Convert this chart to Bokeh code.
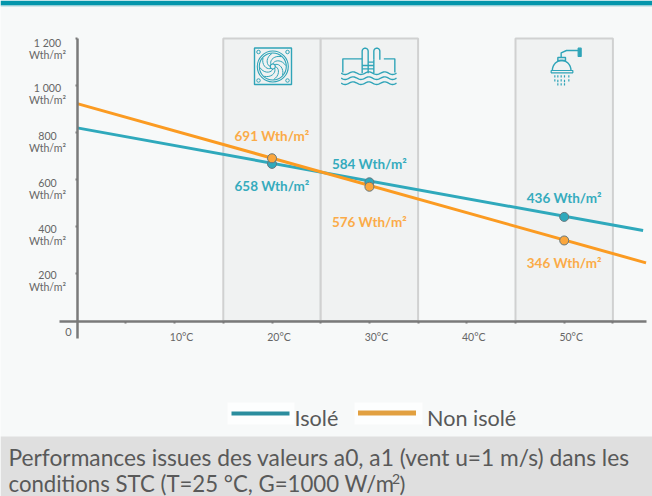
import numpy as np
from bokeh.plotting import figure
from bokeh.models import Range1d, LinearAxis, FixedTicker
from bokeh.core.properties import value
from bokeh.embed import file_html
from bokeh.resources import INLINE

# ---- data
line_x = [0, 58.1]
isole_line = [820, 384]
line_x2 = [0, 58.4]
non_isole_line = [923, 247]
point_x = [20, 30, 50]
isole_points = [667, 589, 442]
non_isole_points = [691, 570, 342]
isole_labels = ["658 Wth/m²", "584 Wth/m²", "436 Wth/m²"]
non_isole_labels = ["691 Wth/m²", "576 Wth/m²", "346 Wth/m²"]
band_left = [15, 25, 45]
band_right = [25, 35, 55]
x_ticks = [5, 10, 15, 20, 25, 30, 35, 40, 45, 50, 55]
x_label_pos = [10, 20, 30, 40, 50]
x_labels = ["10°C", "20°C", "30°C", "40°C", "50°C"]
y_ticks = [200, 400, 600, 800, 1000, 1200]
y_labels = ["200\nWth/m²", "400\nWth/m²", "600\nWth/m²", "800\nWth/m²", "1 000\nWth/m²", "1 200\nWth/m²"]

FONT = value("Lato")
TEAL = "#2fa9bc"
ORANGE = "#fb9b22"
W, H = 652, 496
X0, XS = 76.7, 9.74
Y0, YS = 320.5, 0.2355

p = figure(width=W, height=H, output_backend="svg", toolbar_location=None,
           x_axis_type=None, y_axis_type=None, min_border=0,
           x_range=Range1d((0 - X0) / XS, (W - X0) / XS),
           y_range=Range1d((Y0 - H) / YS, Y0 / YS),
           background_fill_color="#f7f9f9", border_fill_color="#f7f9f9",
           outline_line_color=None)
p.styles = {"position": "absolute", "left": "0px", "top": "0px"}
p.grid.visible = False
p.extra_x_ranges["px"] = Range1d(0, W)
p.extra_y_ranges["px"] = Range1d(H, 0)
PX = dict(x_range_name="px", y_range_name="px")

# page furniture
p.quad(left=[0], right=[W], top=[0], bottom=[5], fill_color="#0496ac", line_color=None, **PX)
p.quad(left=[0], right=[W], top=[5], bottom=[6], fill_color="#a9d6dd", line_color=None, **PX)
p.quad(left=[0], right=[W], top=[436], bottom=[H], fill_color="#dfdfdf", line_color=None, **PX)

# bands
p.quad(left=band_left, right=band_right, bottom=0, top=1200, fill_color="#f0f2f2",
       line_color="#d0d1d1", line_width=2)

# axes (their labels are drawn below, offset as in the reference)
xa = LinearAxis(fixed_location=0, ticker=FixedTicker(ticks=x_ticks), bounds=(-1.8, 58.4),
                axis_line_color="#7a7a7a", axis_line_width=2.5, major_tick_line_color="#7a7a7a",
                major_tick_line_width=2, major_tick_out=2, major_tick_in=0, minor_tick_out=0, minor_tick_in=0,
                major_label_overrides={t: "" for t in x_ticks})
ya = LinearAxis(fixed_location=0, ticker=FixedTicker(ticks=y_ticks), bounds=(-75, 1200),
                axis_line_color="#7a7a7a", axis_line_width=2.5, major_tick_line_color="#7a7a7a",
                major_tick_line_width=2, major_tick_out=2, major_tick_in=0, minor_tick_out=0, minor_tick_in=0,
                major_label_overrides={t: "" for t in y_ticks})
p.add_layout(xa, "below")
p.add_layout(ya, "left")

# tick labels
p.text(x=x_label_pos, y=[0] * 5, text=x_labels, x_offset=7, y_offset=15.5, text_align="center",
       text_baseline="middle", text_font=FONT, text_font_size="10.5px", text_color="#666666")
p.text(x=[47] * 6, y=y_ticks, text=y_labels, x_range_name="px", y_offset=[7, 8, 9, 9, 8, 11],
       text_align="center", text_baseline="middle", text_font=FONT, text_font_size="10.6px",
       text_line_height=1.0, text_color="#666666")
p.text(x=[68], y=[331], text=["0"], text_align="center", text_baseline="middle", text_font=FONT,
       text_font_size="11px", text_color="#666666", **PX)

# series
p.line(line_x, isole_line, line_color=TEAL, line_width=3)
p.line(line_x2, non_isole_line, line_color=ORANGE, line_width=3)
p.scatter(point_x, isole_points, size=9, fill_color=TEAL, line_color="#66787e", line_width=1)
p.scatter(point_x, non_isole_points, size=9, fill_color="#fba63c", line_color="#66787e", line_width=1)

# value labels
p.text(x=point_x, y=[185, 163, 197], text=isole_labels,
       y_range_name="px", text_align="center", text_baseline="middle", text_font=FONT,
       text_font_style="bold", text_font_size="13.5px", text_color="#35abbd")
p.text(x=point_x, y=[135, 221, 262], text=non_isole_labels, y_range_name="px", text_align="center",
       text_baseline="middle", text_font=FONT, text_font_style="bold", text_font_size="13.5px",
       text_color="#fbab48")

# ---- icons (pixel space)
IC = "#2fa4b8"
def ml(xs, ys, w=1.3):
    p.multi_line(xs, ys, line_color=IC, line_width=w, **PX)

# fan
p.quad(left=[254], right=[291], top=[47.5], bottom=[84], fill_color=None, line_color=IC, line_width=1.4, **PX)
cx, cy = 272.3, 66
p.scatter([cx, cx, cx], [cy] * 3, size=[31, 27, 5], fill_color=None, line_color=IC, line_width=1.1, **PX)
p.scatter([258, 287, 258, 287], [51.5, 51.5, 80, 80], size=3.5, fill_color=None, line_color=IC, line_width=1, **PX)
bx, by = [], []
for k in range(8):
    r = np.linspace(2.5, 13, 10)
    t = k * np.pi / 4 + (r - 2.5) / 10.5 * 1.5
    bx.append(list(cx + r * np.cos(t)))
    by.append(list(cy + r * np.sin(t)))
ml(bx, by, 1.0)

# pool
O = 320
def sx(v):
    return [O + a / 3 for a in v]
def sy(v):
    return [a / 3 for a in v]
tt = np.linspace(np.pi, 0, 10)
def rail(x0, x1, bot):
    xc, rr = (x0 + x1) / 2, (x1 - x0) / 2
    xs = [x0] + list(xc + rr * np.cos(tt)) + [x1]
    ys = [bot] + list(143 + rr - rr * np.sin(tt)) + [bot]
    return sx(xs), sy(ys)
wx, wy = [], []
for y0 in (218, 233, 248):
    xv = np.linspace(62, 228, 60)
    wx.append(sx(xv))
    wy.append(sy(y0 + 4 * np.sin((xv - 62) / 166 * 2 * np.pi * 3.5)))
r1 = rail(125, 143, 218)
r2 = rail(160, 178, 178)
ml([sx([125, 67, 67]), sx([190, 223, 223]), r1[0], r2[0],
    sx([143, 160]), sx([125, 160]), sx([125, 160]), sx([160, 160])] + wx,
   [sy([175, 175, 216]), sy([175, 175, 216]), r1[1], r2[1],
    sy([185, 185]), sy([205, 205]), sy([195, 195]), sy([178, 218])] + wy, 1.4)

# shower
arc = np.linspace(np.pi, 0, 16)
dx = 723.5 + 28 * np.cos(arc)
dy = 210 - 30 * np.sin(arc)
ml([sx([778, 738, 722, 722]), sx(dx), sx([712, 712, 735, 735]), sx([712, 735])],
   [sy([150, 150, 157, 172]), sy(dy), sy([182, 171, 171, 182]), sy([180, 180])], 1.4)
p.quad(left=sx([692, 773]), right=sx([757, 782]), top=sy([210, 143]), bottom=sy([217, 168]),
       fill_color=[None, IC], line_color=IC, line_width=1.2, **PX)
dr_x = [703, 712, 722, 732, 745, 703, 712, 722, 732, 745, 712, 722, 732]
dr_a = [224, 224, 224, 224, 224, 236, 238, 236, 238, 236, 248, 248, 248]
ml([sx([a, a]) for a in dr_x], [sy([a, a + 7]) for a in dr_a], 1.2)

# legend
p.quad(left=[227, 354], right=[294, 422], top=[402, 402], bottom=[424, 424], fill_color="#fdfefe",
       line_color=None, **PX)
p.segment(x0=[231], y0=[413], x1=[289], y1=[413], line_color="#2b8d9e", line_width=4, **PX)
p.segment(x0=[357.5], y0=[412.5], x1=[415.5], y1=[412.5], line_color="#e2a040", line_width=5, **PX)
p.text(x=[294, 426.5], y=[417, 417], text=["Isolé", "Non isolé"], text_baseline="middle", text_font=FONT,
       text_font_size="21.6px", text_color="#595959", **PX)

# caption
p.text(x=[8, 8], y=[457, 483], text=["Performances issues des valeurs a0, a1 (vent u=1 m/s) dans les",
                                    "conditions STC (T=25 °C, G=1000 W/m"],
       text_baseline="middle", text_font=FONT, text_font_size=["22.75px", "22.2px"], text_color="#595959", **PX)
p.text(x=[391.5, 399], y=[478, 483], text=["2", ")"], text_baseline="middle", text_font=FONT,
       text_font_size=["14px", "22px"], text_color="#595959", **PX)

open("out.html", "w").write(file_html(p, INLINE))
